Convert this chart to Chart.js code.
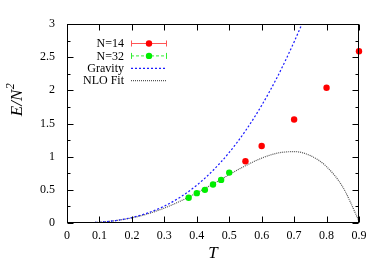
<!DOCTYPE html>
<html>
<head>
<meta charset="utf-8">
<script src="https://cdn.jsdelivr.net/npm/chart.js@4/dist/chart.umd.min.js"></script>
<style>
html,body{margin:0;padding:0;background:#fff;}
#wrap{width:382px;height:267px;}
</style>
</head>
<body>
<div id="wrap"><canvas id="c" width="382" height="267"></canvas></div>
<script>
// ---- data ----
const n14T = [0.55, 0.6, 0.7, 0.8, 0.9];
const n14E = [0.93, 1.16, 1.56, 2.04, 2.59];
const n32T = [0.375, 0.4, 0.425, 0.45, 0.475, 0.5];
const n32E = [0.38, 0.45, 0.50, 0.58, 0.65, 0.76];
const gravityT = [0, 0.05, 0.1, 0.15, 0.2, 0.25, 0.3, 0.35, 0.4, 0.45, 0.5, 0.55, 0.6, 0.65, 0.7, 0.725];
const gravityE = [0, 0.002, 0.012, 0.037, 0.082, 0.153, 0.255, 0.392, 0.570, 0.792, 1.064, 1.389, 1.773, 2.218, 2.730, 3.01];
const nloT = [0, 0.05, 0.1, 0.15, 0.2, 0.25, 0.3, 0.35, 0.4, 0.45, 0.5, 0.55, 0.6, 0.65, 0.7, 0.75, 0.8, 0.85, 0.9];
const nloE = [0, 0.002, 0.012, 0.036, 0.078, 0.140, 0.225, 0.331, 0.454, 0.589, 0.730, 0.863, 0.978, 1.055, 1.076, 1.016, 0.849, 0.542, 0.03];
const xTickValues = [0, 0.1, 0.2, 0.3, 0.4, 0.5, 0.6, 0.7, 0.8, 0.9];
const xTickLabels = ['0', '0.1', '0.2', '0.3', '0.4', '0.5', '0.6', '0.7', '0.8', '0.9'];
const yTickValues = [0, 0.5, 1, 1.5, 2, 2.5, 3];
const yTickLabels = ['0', '0.5', '1', '1.5', '2', '2.5', '3'];
const yMinorValues = [0.25, 0.75, 1.25, 1.75, 2.25, 2.75];
const legendLabels = ['N=14', 'N=32', 'Gravity', 'NLO Fit'];
const xTitle = 'T';
const yTitleMain = 'E/N';
const yTitleSup = '2';

const zip = (xs, ys) => xs.map((x, i) => ({x: x, y: ys[i]}));
const SERIF = "'Liberation Serif', 'DejaVu Serif', serif";

const framePlugin = {
  id: 'frame',
  afterDraw(chart) {
    const ctx = chart.ctx;
    const a = chart.chartArea;
    const xs = chart.scales.x, ys = chart.scales.y;
    ctx.save();
    ctx.strokeStyle = '#000';
    ctx.lineWidth = 1;
    const L = Math.round(a.left) + 0.5, R = Math.round(a.right) - 0.5;
    const T = Math.round(a.top) + 0.5, B = Math.round(a.bottom) - 0.5;
    ctx.strokeRect(L, T, R - L, B - T);
    ctx.beginPath();
    xTickValues.forEach(v => {
      const px = Math.round(xs.getPixelForValue(v)) + 0.5;
      ctx.moveTo(px, B); ctx.lineTo(px, B - 6);
      ctx.moveTo(px, T); ctx.lineTo(px, T + 6);
    });
    yTickValues.forEach(v => {
      const py = Math.round(ys.getPixelForValue(v)) + 0.5;
      ctx.moveTo(L, py); ctx.lineTo(L + 6, py);
      ctx.moveTo(R, py); ctx.lineTo(R - 6, py);
    });
    yMinorValues.forEach(v => {
      const py = Math.round(ys.getPixelForValue(v)) + 0.5;
      ctx.moveTo(L, py); ctx.lineTo(L + 3, py);
      ctx.moveTo(R, py); ctx.lineTo(R - 3, py);
    });
    ctx.stroke();

    // y title (rotated)
    ctx.save();
    ctx.translate(22, 100);
    ctx.rotate(-Math.PI / 2);
    ctx.fillStyle = '#000';
    ctx.textBaseline = 'alphabetic';
    ctx.font = "italic 17px " + SERIF;
    const w1 = ctx.measureText(yTitleMain).width;
    ctx.font = "italic 12px " + SERIF;
    const w2 = ctx.measureText(yTitleSup).width;
    const total = w1 + w2;
    ctx.font = "italic 17px " + SERIF;
    ctx.textAlign = 'left';
    ctx.fillText(yTitleMain, -total / 2, 0);
    ctx.font = "italic 12px " + SERIF;
    ctx.fillText(yTitleSup, -total / 2 + w1 + 0.5, -8);
    ctx.restore();

    // legend
    const rowY0 = 43.5, rowDy = 12.4;
    const textRight = 124, lx0 = 131, lx1 = 167, lxm = 149;
    ctx.font = "12px " + SERIF;
    ctx.textAlign = 'right';
    ctx.textBaseline = 'middle';
    ctx.fillStyle = '#000';
    legendLabels.forEach((lab, i) => {
      ctx.fillText(lab, textRight, rowY0 + i * rowDy + 0.5);
    });
    // N=14
    let y = rowY0;
    ctx.strokeStyle = '#ff5555';
    ctx.lineWidth = 1;
    ctx.setLineDash([]);
    ctx.beginPath();
    ctx.moveTo(lx0, y); ctx.lineTo(lx1, y);
    ctx.moveTo(lx0 + 0.5, y - 3); ctx.lineTo(lx0 + 0.5, y + 3);
    ctx.moveTo(lx1 - 0.5, y - 3); ctx.lineTo(lx1 - 0.5, y + 3);
    ctx.stroke();
    ctx.fillStyle = '#ff0000';
    ctx.beginPath(); ctx.arc(lxm, y, 3.2, 0, Math.PI * 2); ctx.fill();
    // N=32
    y = rowY0 + rowDy;
    ctx.strokeStyle = '#33ee33';
    ctx.setLineDash([3, 2]);
    ctx.beginPath();
    ctx.moveTo(lx0, y); ctx.lineTo(lx1, y);
    ctx.stroke();
    ctx.setLineDash([]);
    ctx.beginPath();
    ctx.moveTo(lx0 + 0.5, y - 3); ctx.lineTo(lx0 + 0.5, y + 3);
    ctx.moveTo(lx1 - 0.5, y - 3); ctx.lineTo(lx1 - 0.5, y + 3);
    ctx.stroke();
    ctx.fillStyle = '#00ee00';
    ctx.beginPath(); ctx.arc(lxm, y, 3.2, 0, Math.PI * 2); ctx.fill();
    // Gravity
    y = rowY0 + 2 * rowDy;
    ctx.strokeStyle = '#1a1aff';
    ctx.lineWidth = 1.2;
    ctx.setLineDash([2, 2]);
    ctx.beginPath(); ctx.moveTo(lx0, y); ctx.lineTo(lx1, y); ctx.stroke();
    // NLO
    y = rowY0 + 3 * rowDy;
    ctx.strokeStyle = '#555';
    ctx.lineWidth = 1.2;
    ctx.setLineDash([1, 1]);
    ctx.beginPath(); ctx.moveTo(lx0, y); ctx.lineTo(lx1, y); ctx.stroke();
    ctx.restore();
  }
};

new Chart(document.getElementById('c'), {
  type: 'scatter',
  data: {
    datasets: [
      {
        label: legendLabels[0],
        data: zip(n14T, n14E),
        backgroundColor: '#ff0000',
        borderColor: '#ff0000',
        pointRadius: 3.2,
        pointBorderWidth: 0,
        showLine: false,
        clip: 6
      },
      {
        label: legendLabels[1],
        data: zip(n32T, n32E),
        backgroundColor: '#00ee00',
        borderColor: '#00ee00',
        pointRadius: 3.2,
        pointBorderWidth: 0,
        showLine: false
      },
      {
        label: legendLabels[2],
        data: zip(gravityT, gravityE),
        showLine: true,
        borderColor: '#1a1aff',
        borderWidth: 1.2,
        borderDash: [2, 2],
        pointRadius: 0,
        cubicInterpolationMode: 'monotone',
        fill: false
      },
      {
        label: legendLabels[3],
        data: zip(nloT, nloE),
        showLine: true,
        borderColor: '#555',
        borderWidth: 1.2,
        borderDash: [1, 1],
        pointRadius: 0,
        cubicInterpolationMode: 'monotone',
        fill: false
      }
    ]
  },
  options: {
    responsive: false,
    animation: false,
    events: [],
    layout: { padding: { left: 0, right: 23, top: 24, bottom: 0 } },
    plugins: {
      legend: { display: false },
      tooltip: { enabled: false },
      title: { display: false }
    },
    scales: {
      x: {
        type: 'linear',
        min: 0, max: 0.9,
        afterFit(s) { s.height = 44; },
        afterBuildTicks(s) { s.ticks = xTickValues.map(v => ({value: v})); },
        grid: { display: false, drawTicks: false },
        border: { display: false },
        ticks: {
          padding: 6,
          color: '#000',
          maxRotation: 0,
          autoSkip: false,
          font: { family: SERIF, size: 12 },
          callback: (v) => { const i = xTickValues.findIndex(t => Math.abs(t - v) < 1e-9); return i >= 0 ? xTickLabels[i] : ''; }
        },
        title: {
          display: true,
          text: xTitle,
          color: '#000',
          font: { family: SERIF, size: 17, style: 'italic' },
          padding: { top: 0, bottom: 3 }
        }
      },
      y: {
        type: 'linear',
        min: 0, max: 3,
        afterFit(s) { s.width = 67; },
        afterBuildTicks(s) { s.ticks = yTickValues.map(v => ({value: v})); },
        grid: { display: false, drawTicks: false },
        border: { display: false },
        ticks: {
          padding: 12,
          color: '#000',
          autoSkip: false,
          font: { family: SERIF, size: 12 },
          callback: (v) => { const i = yTickValues.findIndex(t => Math.abs(t - v) < 1e-9); return i >= 0 ? yTickLabels[i] : ''; }
        }
      }
    }
  },
  plugins: [framePlugin]
});
</script>
</body>
</html>
